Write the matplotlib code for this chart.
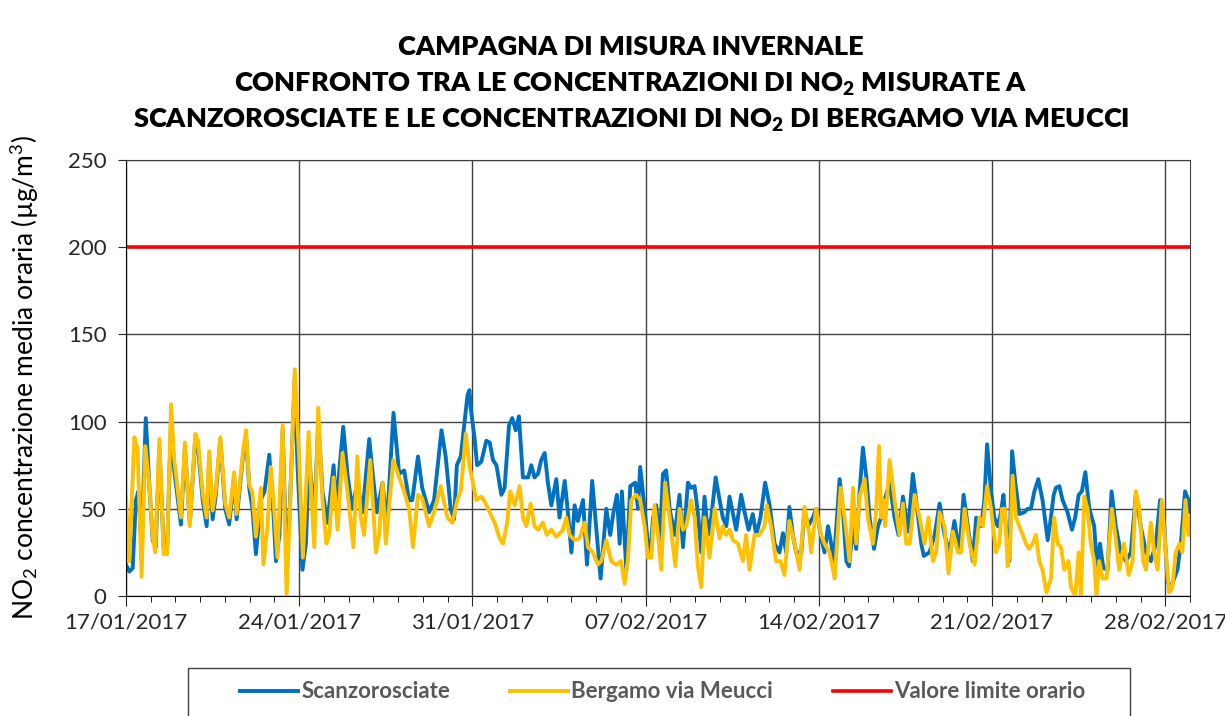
import matplotlib
matplotlib.use('Agg')
import matplotlib.pyplot as plt
from matplotlib.patches import Rectangle
import pandas as pd

plt.rcParams['font.family'] = ['Lato', 'DejaVu Sans']
plt.rcParams['mathtext.fontset'] = 'custom'
plt.rcParams['mathtext.rm'] = 'Lato'
plt.rcParams['mathtext.bf'] = 'Lato:heavy'
plt.rcParams['mathtext.default'] = 'rm'

start = pd.Timestamp('2017-01-17')

# days since 17/01/2017 00:00 and hourly NO2 values
scanz_days = [0.00, 0.13, 0.27, 0.40, 0.50, 0.63, 0.80, 0.94, 1.08, 1.20, 1.35, 1.52, 1.66, 1.82, 1.95,
              2.22, 2.38, 2.58, 2.80, 2.91, 3.10, 3.26, 3.36, 3.50, 3.63, 3.81, 4.01, 4.17, 4.37, 4.47,
              4.74, 4.85, 4.98, 5.11, 5.25, 5.45, 5.60, 5.79, 5.95, 6.06, 6.20, 6.33, 6.49, 6.59, 6.82,
              6.93, 7.13, 7.27, 7.40, 7.61, 7.77, 7.94, 8.14, 8.39, 8.48, 8.78, 8.95, 9.14, 9.35, 9.56,
              9.83, 9.97, 10.14, 10.37, 10.54, 10.81, 11.04, 11.24, 11.44, 11.57, 11.80, 11.97, 12.25,
              12.45, 12.75, 12.92, 13.12, 13.26, 13.37, 13.53, 13.80, 13.88, 13.93, 14.09, 14.19, 14.36,
              14.56, 14.70, 14.83, 14.97, 15.17, 15.30, 15.48, 15.61, 15.75, 15.88, 16.04, 16.25, 16.38,
              16.51, 16.65, 16.78, 16.92, 17.05, 17.19, 17.39, 17.52, 17.73, 17.86, 18.00, 18.13, 18.26,
              18.47, 18.63, 18.84, 19.03, 19.18, 19.41, 19.57, 19.70, 19.84, 19.95, 20.04, 20.22, 20.38,
              20.58, 20.69, 20.78, 20.96, 21.09, 21.20, 21.30, 21.43, 21.57, 21.70, 21.83, 21.97, 22.17,
              22.37, 22.51, 22.71, 22.84, 22.98, 23.11, 23.25, 23.38, 23.52, 23.65, 23.83, 23.99, 24.12,
              24.26, 24.39, 24.53, 24.66, 24.86, 25.00, 25.16, 25.33, 25.47, 25.64, 25.83, 26.01, 26.21,
              26.41, 26.55, 26.68, 26.81, 26.95, 27.08, 27.29, 27.42, 27.56, 27.76, 27.89, 28.10, 28.23,
              28.37, 28.50, 28.61, 28.84, 28.97, 29.11, 29.22, 29.38, 29.51, 29.65, 29.78, 29.92, 30.05,
              30.23, 30.39, 30.52, 30.66, 30.86, 31.06, 31.22, 31.40, 31.60, 31.80, 31.93, 32.14, 32.24,
              32.47, 32.68, 32.88, 33.08, 33.28, 33.48, 33.68, 33.85, 34.02, 34.22, 34.36, 34.56, 34.69,
              34.80, 34.96, 35.09, 35.23, 35.36, 35.46, 35.56, 35.70, 35.81, 35.94, 36.10, 36.30, 36.44,
              36.57, 36.71, 36.87, 37.04, 37.25, 37.38, 37.49, 37.58, 37.72, 37.85, 38.05, 38.23, 38.36,
              38.50, 38.63, 38.77, 38.93, 39.13, 39.24, 39.36, 39.50, 39.67, 39.83, 40.00, 40.20, 40.41,
              40.61, 40.81, 41.01, 41.22, 41.42, 41.62, 41.79, 41.96, 42.09, 42.22, 42.36, 42.49, 42.63,
              42.80, 42.94, 43.00]
scanz_vals = [18, 14, 16, 55, 60, 30, 102, 64, 32, 28, 85, 28, 27, 100, 72,
              41, 85, 42, 90, 85, 55, 40, 78, 44, 58, 90, 50, 41, 68, 44,
              82, 92, 62, 50, 24, 55, 60, 81, 50, 20, 35, 95, 20, 40, 125,
              75, 15, 30, 80, 45, 100, 60, 42, 75, 50, 97, 70, 50, 65, 48,
              90, 70, 48, 65, 40, 105, 70, 72, 55, 55, 80, 62, 48,
              55, 95, 80, 50, 44, 75, 80, 115, 118, 108, 90, 75, 77,
              89, 88, 78, 75, 58, 62, 98, 102, 95, 103, 68, 68, 75,
              68, 70, 78, 82, 65, 52, 67, 45, 66, 48, 25, 52, 43,
              55, 18, 66, 35, 10, 50, 35, 48, 58, 30, 60, 15, 63,
              65, 50, 74, 50, 30, 25, 45, 52, 30, 70, 72, 50, 35,
              58, 28, 65, 62, 63, 48, 25, 57, 35, 45, 68, 55, 45,
              40, 57, 47, 38, 58, 48, 38, 47, 35, 45, 65, 52, 30,
              25, 36, 25, 51, 35, 25, 25, 50, 40, 45, 50, 33, 25,
              40, 30, 20, 67, 50, 20, 17, 40, 27, 60, 85, 68, 45,
              27, 40, 45, 55, 65, 45, 35, 57, 37, 70, 55, 30, 23,
              25, 35, 53, 35, 25, 43, 25, 58, 40, 20, 45, 40, 55,
              87, 60, 45, 40, 48, 58, 40, 20, 83, 65, 47, 48, 50,
              50, 60, 67, 55, 32, 45, 58, 62, 63, 55, 48, 38, 45,
              58, 60, 71, 50, 40, 15, 30, 16, 15, 60, 40, 25, 20,
              25, 58, 40, 25, 20, 30, 55, 40, 8, 5, 10, 15, 30,
              60, 55, 48]

berg_days = [0.00, 0.13, 0.34, 0.47, 0.63, 0.78, 0.94, 1.08, 1.18, 1.35, 1.52, 1.66, 1.82, 1.95, 2.22,
             2.38, 2.58, 2.80, 2.91, 3.10, 3.26, 3.36, 3.50, 3.63, 3.81, 4.01, 4.17, 4.37, 4.47, 4.74,
             4.85, 4.98, 5.11, 5.25, 5.45, 5.55, 5.72, 5.85, 5.99, 6.12, 6.33, 6.49, 6.59, 6.82, 7.00,
             7.15, 7.38, 7.50, 7.61, 7.77, 7.94, 8.10, 8.21, 8.39, 8.55, 8.75, 8.95, 9.19, 9.35, 9.49,
             9.62, 9.87, 10.10, 10.23, 10.37, 10.50, 10.80, 11.04, 11.24, 11.44, 11.60, 11.80, 11.97,
             12.25, 12.45, 12.72, 12.99, 13.19, 13.39, 13.53, 13.73, 13.89, 14.02, 14.16, 14.36, 14.50,
             14.70, 14.90, 15.10, 15.24, 15.40, 15.53, 15.71, 15.91, 16.04, 16.18, 16.35, 16.51, 16.65,
             16.85, 17.01, 17.19, 17.39, 17.66, 17.79, 17.93, 18.13, 18.33, 18.53, 18.67, 18.87, 19.07,
             19.21, 19.41, 19.61, 19.81, 20.01, 20.15, 20.28, 20.42, 20.62, 20.78, 20.96, 21.09, 21.23,
             21.36, 21.50, 21.63, 21.79, 21.97, 22.20, 22.37, 22.51, 22.64, 22.84, 22.98, 23.11, 23.25,
             23.38, 23.58, 23.79, 23.99, 24.12, 24.26, 24.39, 24.53, 24.73, 24.93, 25.06, 25.20, 25.40,
             25.60, 25.80, 25.90, 26.07, 26.27, 26.45, 26.61, 26.81, 27.02, 27.22, 27.42, 27.62, 27.69,
             27.89, 28.09, 28.23, 28.43, 28.64, 28.88, 29.04, 29.24, 29.38, 29.51, 29.65, 29.85, 29.98,
             30.19, 30.32, 30.43, 30.52, 30.62, 30.68, 30.86, 31.06, 31.26, 31.40, 31.53, 31.67, 31.87,
             32.07, 32.27, 32.43, 32.61, 32.74, 32.88, 33.08, 33.24, 33.42, 33.62, 33.75, 33.89, 34.09,
             34.29, 34.49, 34.63, 34.80, 34.96, 35.16, 35.29, 35.40, 35.52, 35.63, 35.72, 35.83, 35.97,
             36.10, 36.24, 36.37, 36.50, 36.64, 36.77, 36.91, 37.04, 37.20, 37.38, 37.51, 37.65, 37.78,
             37.92, 38.09, 38.19, 38.36, 38.50, 38.59, 38.73, 38.86, 38.99, 39.13, 39.22, 39.33, 39.47,
             39.63, 39.84, 39.98, 40.14, 40.34, 40.52, 40.68, 40.81, 40.95, 41.11, 41.22, 41.42, 41.55,
             41.69, 41.86, 42.02, 42.16, 42.29, 42.42, 42.58, 42.69, 42.82, 42.94, 43.00]
berg_vals = [57, 20, 91, 84, 11, 86, 64, 34, 25, 90, 24, 24, 110, 78, 45,
             88, 40, 93, 89, 59, 45, 83, 49, 61, 91, 53, 45, 71, 47, 84,
             95, 64, 59, 34, 62, 18, 40, 74, 49, 22, 98, 0, 36, 130, 78,
             22, 94, 55, 28, 108, 55, 30, 35, 68, 38, 82, 60, 28, 80, 45,
             35, 78, 25, 35, 65, 30, 78, 68, 60, 50, 28, 58, 56,
             40, 48, 63, 45, 42, 55, 60, 93, 74, 65, 55, 57, 54,
             48, 42, 33, 30, 42, 60, 52, 63, 45, 40, 53, 40, 38,
             42, 35, 38, 34, 38, 45, 35, 32, 33, 42, 28, 25, 18,
             20, 32, 20, 18, 20, 7, 20, 55, 58, 55, 40, 22, 22,
             52, 35, 15, 65, 45, 17, 50, 38, 40, 55, 45, 17, 5,
             45, 22, 50, 33, 40, 35, 38, 32, 30, 20, 35, 15, 35,
             35, 40, 52, 40, 20, 20, 12, 43, 30, 15, 51, 35, 25,
             50, 35, 30, 25, 10, 62, 45, 20, 62, 30, 57, 67, 45,
             30, 50, 86, 45, 55, 40, 78, 55, 35, 53, 30, 30, 58,
             45, 30, 45, 20, 25, 48, 40, 13, 37, 25, 25, 50, 30,
             18, 45, 40, 63, 50, 25, 30, 50, 50, 17, 25, 69, 45,
             40, 35, 30, 27, 30, 35, 20, 15, 2, 10, 45, 30, 28,
             15, 20, 5, 0, 25, 0, 57, 50, 30, 20, 0, 20, 10,
             10, 50, 35, 15, 30, 12, 20, 60, 50, 20, 15, 42, 25,
             15, 55, 25, 2, 5, 25, 30, 25, 55, 35, 45]

limit_value = 200
tick_dates = ['17/01/2017', '24/01/2017', '31/01/2017', '07/02/2017', '14/02/2017', '21/02/2017', '28/02/2017']

scanz_t = start + pd.to_timedelta(scanz_days, unit='D')
berg_t = start + pd.to_timedelta(berg_days, unit='D')
end = start + pd.Timedelta(days=43)
ticks = pd.to_datetime(tick_dates, format='%d/%m/%Y')
minor = pd.date_range(start, end, freq='D')

fig = plt.figure(figsize=(12.25, 7.16), dpi=100)
ax = fig.add_axes([126/1225, 1-596/716, (1190-126)/1225, (596-160)/716])

ax.plot(scanz_t, scanz_vals, color='#0070C0', lw=2.8, label='Scanzorosciate')
ax.plot(berg_t, berg_vals, color='#FFC000', lw=2.8, label='Bergamo via Meucci')
ax.plot([start, end], [limit_value, limit_value], color='#FF0000', lw=2.6, label='Valore limite orario')

ax.set_xlim(start, end)
ax.set_ylim(0, 250)
ax.set_yticks([0, 50, 100, 150, 200, 250])
ax.set_xticks(ticks)
ax.set_xticklabels(tick_dates)
ax.set_xticks(minor, minor=True)
ax.tick_params(axis='both', labelsize=16, direction='out', colors='#262626')
ax.tick_params(axis='x', which='major', length=7, pad=5)
ax.tick_params(axis='x', which='minor', length=4)
ax.tick_params(axis='y', length=6, pad=8)
ax.grid(True, which='major', color='#404040', lw=1.0)
ax.set_axisbelow(True)
for s in ax.spines.values():
    s.set_color('#404040')
ax.spines['left'].set_color('black')
ax.spines['bottom'].set_color('black')

ax.set_ylabel('NO$_2$ concentrazione media oraria (µg/m$^3$)', fontsize=19, color='black')
ax.yaxis.set_label_coords((41-126)/1064, 0.5)

fig.text(0.515, 1-47/716, 'CAMPAGNA DI MISURA INVERNALE', ha='center', va='center',
         fontsize=19.5, fontweight='heavy')
fig.text(0.515, 1-84/716, 'CONFRONTO TRA LE CONCENTRAZIONI DI NO$_\\mathbf{2}$ MISURATE A', ha='center',
         va='center', fontsize=19.5, fontweight='heavy')
fig.text(0.515, 1-120/716, 'SCANZOROSCIATE E LE CONCENTRAZIONI DI NO$_\\mathbf{2}$ DI BERGAMO VIA MEUCCI',
         ha='center', va='center', fontsize=19.5, fontweight='heavy')

# legend box runs past the bottom edge like in the original
fig.patches.append(Rectangle((188/1225, -0.05), (1130-188)/1225, 0.05 + 48/716, transform=fig.transFigure,
                             facecolor='white', edgecolor='#404040', lw=1.0))
leg = fig.legend(loc='center', bbox_to_anchor=(663/1225, 1-692/716), ncol=3, frameon=False,
                 handlelength=2.6, handletextpad=0.15, columnspacing=2.7, borderaxespad=0,
                 prop={'size': 16, 'weight': 'bold'})
for t in leg.get_texts():
    t.set_color('#595959')

plt.savefig('out.png', dpi=100)
